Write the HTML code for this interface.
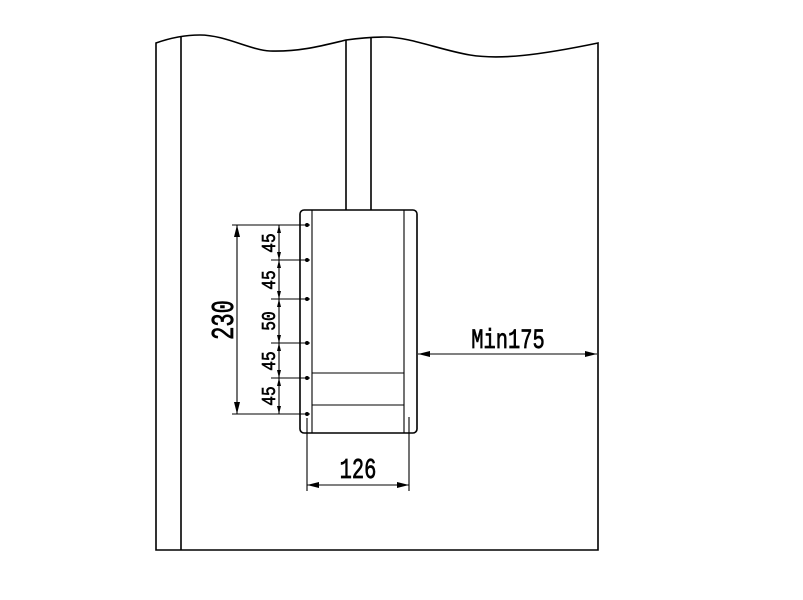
<!DOCTYPE html>
<html><head><style>body{margin:0;background:#fff}svg{display:block}</style></head><body>
<svg width="803" height="600" viewBox="0 0 803 600" xmlns="http://www.w3.org/2000/svg">
<defs>
<marker id="a" viewBox="0 0 12 6" refX="12" refY="3" markerWidth="12" markerHeight="6" orient="auto-start-reverse" markerUnits="userSpaceOnUse"><path d="M0,0L12,3L0,6z" fill="#000"/></marker>
<marker id="s" viewBox="0 0 8 4" refX="8" refY="2" markerWidth="8" markerHeight="4" orient="auto-start-reverse" markerUnits="userSpaceOnUse"><path d="M0,0L8,2L0,4z" fill="#000"/></marker>
</defs>
<g fill="none" stroke="#000" stroke-width="1.6">
<path d="M156,550V43C170,38 185,35 200,35C225,35 250,50 270,51C300,52 325,45 346,40C360,38 372,37 385,37C410,37 440,50 470,55C500,60 540,55 598,43V550H156Z"/>
<line x1="181" y1="36" x2="181" y2="550"/>
<line x1="346" y1="40" x2="346" y2="210"/>
<line x1="371" y1="38" x2="371" y2="210"/>
<rect x="300" y="210" width="117" height="223" rx="4"/>
</g>
<g fill="none" stroke="#000" stroke-width="1.1">
<line x1="312" y1="210" x2="312" y2="433"/>
<line x1="404" y1="210" x2="404" y2="433"/>
<line x1="312" y1="373" x2="404" y2="373"/>
<line x1="312" y1="405" x2="404" y2="405"/>
<line x1="232" y1="225" x2="310" y2="225"/>
<line x1="232" y1="414" x2="310" y2="414"/>
<line x1="271" y1="260" x2="310" y2="260"/>
<line x1="271" y1="299" x2="310" y2="299"/>
<line x1="271" y1="343" x2="310" y2="343"/>
<line x1="271" y1="378" x2="310" y2="378"/>
<line x1="237" y1="225" x2="237" y2="414" marker-start="url(#a)" marker-end="url(#a)"/>
<line x1="279" y1="225" x2="279" y2="260" marker-start="url(#s)" marker-end="url(#s)"/>
<line x1="279" y1="260" x2="279" y2="299" marker-start="url(#s)" marker-end="url(#s)"/>
<line x1="279" y1="299" x2="279" y2="343" marker-start="url(#s)" marker-end="url(#s)"/>
<line x1="279" y1="343" x2="279" y2="378" marker-start="url(#s)" marker-end="url(#s)"/>
<line x1="279" y1="378" x2="279" y2="414" marker-start="url(#s)" marker-end="url(#s)"/>
<line x1="307" y1="418" x2="307" y2="491"/>
<line x1="409" y1="417" x2="409" y2="491"/>
<line x1="307" y1="485" x2="409" y2="485" marker-start="url(#a)" marker-end="url(#a)"/>
<line x1="418" y1="354" x2="597" y2="354" marker-start="url(#a)" marker-end="url(#a)"/>
</g>
<g fill="#000">
<circle cx="307" cy="225" r="2"/><circle cx="307" cy="260" r="2"/><circle cx="307" cy="299" r="2"/><circle cx="307" cy="343" r="2"/><circle cx="307" cy="378" r="2"/><circle cx="307" cy="414" r="2"/>
</g>
<g font-family="Liberation Mono, monospace" fill="#000" stroke="#000" stroke-width="0.6">
<text transform="translate(508,348) scale(0.85,1.15)" font-size="24" text-anchor="middle">Min175</text>
<text transform="translate(358,478) scale(0.85,1.2)" font-size="24" text-anchor="middle">126</text>
<text transform="translate(233,320) rotate(-90) scale(0.85,1.2)" font-size="26" text-anchor="middle">230</text>
<g font-size="18" text-anchor="middle">
<text transform="translate(275,243) rotate(-90) scale(0.9,1.1)">45</text>
<text transform="translate(275,280) rotate(-90) scale(0.9,1.1)">45</text>
<text transform="translate(275,321) rotate(-90) scale(0.9,1.1)">50</text>
<text transform="translate(275,361) rotate(-90) scale(0.9,1.1)">45</text>
<text transform="translate(275,396) rotate(-90) scale(0.9,1.1)">45</text>
</g>
</g>
</svg>
</body></html>
